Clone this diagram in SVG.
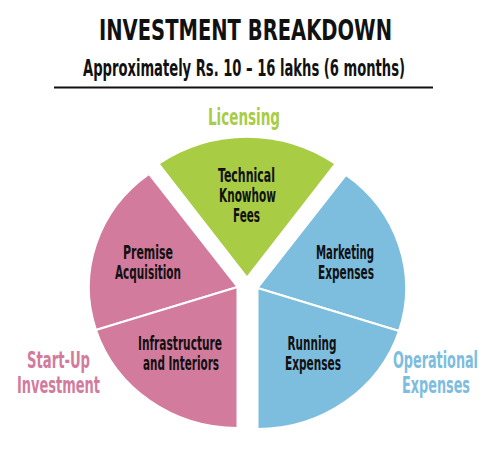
<svg xmlns="http://www.w3.org/2000/svg" width="500" height="450" viewBox="0 0 500 450">
<style>
text{font-family:"DejaVu Sans Condensed","DejaVu Sans","Liberation Sans Narrow",sans-serif;font-weight:bold;font-stretch:condensed;text-anchor:middle}
.t{font-size:27.5px;fill:#111}
.s{font-size:22.5px;fill:#111}
.c{font-size:22.5px}
.l{font-size:19px;fill:#111}
.pk{fill:#D27B9D}
.gr{fill:#A9CC45}
.bl{fill:#7DBDDE}
.sl{stroke:#fff;stroke-width:2;stroke-linejoin:round}
</style>
<rect width="500" height="450" fill="#fff"/>
<g id="header">
<text class="t" transform="translate(245.5,40) scale(0.85,1)" textLength="344.7" lengthAdjust="spacingAndGlyphs">INVESTMENT BREAKDOWN</text>
<text class="s" transform="translate(244,76) scale(0.75,1)" textLength="429.3" lengthAdjust="spacingAndGlyphs">Approximately Rs. 10 – 16 lakhs (6 months)</text>
<line x1="54" y1="87.5" x2="433" y2="87.5" stroke="#111" stroke-width="1.8"/>
</g>
<g id="label-licensing"><text class="c gr" transform="translate(244,125) scale(0.7,1)" textLength="102.9" lengthAdjust="spacingAndGlyphs">Licensing</text></g>
<g id="label-startup">
<text class="c pk" transform="translate(58.5,368) scale(0.7,1)" textLength="90" lengthAdjust="spacingAndGlyphs">Start-Up</text>
<text class="c pk" transform="translate(58.5,393) scale(0.7,1)" textLength="118.6" lengthAdjust="spacingAndGlyphs">Investment</text>
</g>
<g id="label-operational">
<text class="c bl" transform="translate(435.5,368) scale(0.7,1)" textLength="121.4" lengthAdjust="spacingAndGlyphs">Operational</text>
<text class="c bl" transform="translate(436,393) scale(0.7,1)" textLength="97.1" lengthAdjust="spacingAndGlyphs">Expenses</text>
</g>
<g id="technical-knowhow-fees">
<path class="gr" d="M247 276 L160 164 A149 140 0 0 1 334 164 Z"/>
<text class="l" transform="translate(246.5,182) scale(0.7,1)" textLength="81.4" lengthAdjust="spacingAndGlyphs">Technical</text>
<text class="l" transform="translate(247.5,202) scale(0.7,1)" textLength="81.4" lengthAdjust="spacingAndGlyphs">Knowhow</text>
<text class="l" transform="translate(246.5,222) scale(0.7,1)" textLength="38.6" lengthAdjust="spacingAndGlyphs">Fees</text>
</g>
<g id="premise-acquisition">
<path class="pk sl" d="M237.5 287 L149 174 A149 141 0 0 0 96 330 Z"/>
<text class="l" transform="translate(148,259) scale(0.7,1)" textLength="71.4" lengthAdjust="spacingAndGlyphs">Premise</text>
<text class="l" transform="translate(148,279) scale(0.7,1)" textLength="94.3" lengthAdjust="spacingAndGlyphs">Acquisition</text>
</g>
<g id="infrastructure-interiors">
<path class="pk sl" d="M237.5 287 L96 330 A149 141 0 0 0 237.5 428 Z"/>
<text class="l" transform="translate(180,350) scale(0.7,1)" textLength="120" lengthAdjust="spacingAndGlyphs">Infrastructure</text>
<text class="l" transform="translate(181,370) scale(0.7,1)" textLength="108.6" lengthAdjust="spacingAndGlyphs">and Interiors</text>
</g>
<g id="marketing-expenses">
<path class="bl sl" d="M257.5 288 L346 175 A149 141 0 0 1 399 331 Z"/>
<text class="l" transform="translate(345,259) scale(0.7,1)" textLength="82.9" lengthAdjust="spacingAndGlyphs">Marketing</text>
<text class="l" transform="translate(346,279) scale(0.7,1)" textLength="80" lengthAdjust="spacingAndGlyphs">Expenses</text>
</g>
<g id="running-expenses">
<path class="bl sl" d="M257.5 288 L399 331 A149 141 0 0 1 257.5 429 Z"/>
<text class="l" transform="translate(312,350) scale(0.7,1)" textLength="70" lengthAdjust="spacingAndGlyphs">Running</text>
<text class="l" transform="translate(313,370) scale(0.7,1)" textLength="80" lengthAdjust="spacingAndGlyphs">Expenses</text>
</g>
</svg>
